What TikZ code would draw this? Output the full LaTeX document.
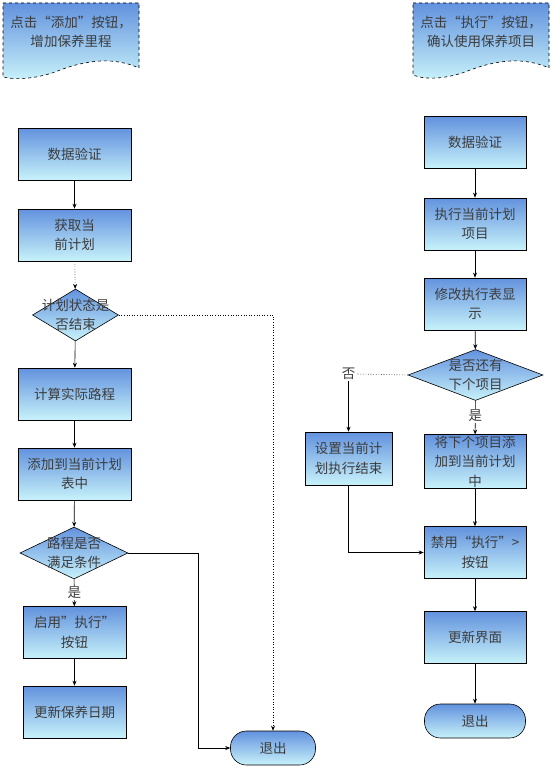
\documentclass[tikz,border=0pt]{standalone}
\usepackage{fontspec}
\setmainfont{Noto Sans CJK SC}
\usetikzlibrary{arrows.meta,shapes.geometric}
\definecolor{topb}{RGB}{98,146,222}
\definecolor{botb}{RGB}{200,242,250}
\definecolor{txtc}{RGB}{60,60,60}
\tikzset{
  box/.style={draw=black, line width=0.6pt, top color=topb, bottom color=botb, minimum height=52pt, align=center, inner sep=1pt, font=\fontsize{13.5}{19.5}\selectfont, text=txtc},
  dia/.style={draw=black, line width=0.6pt, diamond, top color=topb, bottom color=botb, inner sep=0pt},
  dtext/.style={align=center, inner sep=0pt, font=\fontsize{13.5}{19.5}\selectfont, text=txtc},
  term/.style={draw=black, line width=0.6pt, top color=topb, bottom color=botb, rounded corners=16pt, minimum height=34pt, font=\fontsize{13.5}{19}\selectfont, text=txtc},
  lbl/.style={fill=white, inner sep=1pt, font=\fontsize{13.5}{15}\selectfont, text=txtc},
  conn/.style={line width=0.6pt, -{Stealth[length=5pt,width=4pt]}},
  dconn/.style={conn, dotted},
  docshape/.style={draw=black, line width=0.6pt, dashed, top color=topb, bottom color=botb}
}
\begin{document}
\begin{tikzpicture}[x=1pt,y=-1pt]
\useasboundingbox (0,0) rectangle (554,768);
% document shapes
\shade[docshape] (3,3) -- (139,3) -- (139,68) .. controls (110,55) and (80,62) .. (55,72) .. controls (35,79) and (15,80) .. (3,77) -- cycle;
\node[dtext] (docL) at (71,32) {点击“添加”按钮，\\增加保养里程};
\shade[docshape] (413,3) -- (549,3) -- (549,68) .. controls (520,55) and (490,62) .. (465,72) .. controls (445,79) and (425,80) .. (413,75) -- cycle;
\node[dtext] (docR) at (481,32) {点击“执行”按钮，\\确认使用保养项目};
% left column
\node[box, minimum width=113pt] (l1) at (74.5,154) {数据验证};
\node[box, minimum width=113pt] (l2) at (74.5,235) {获取当\\前计划};
\node[dia, minimum width=86pt, minimum height=52pt] (d1) at (75.5,315) {};
\node[dtext] (d1t) at (75.5,315) {计划状态是\\否结束};
\node[box, minimum width=113pt] (l3) at (74.5,394) {计算实际路程};
\node[box, minimum width=113pt] (l4) at (74.5,474) {添加到当前计划\\表中};
\node[dia, minimum width=108pt, minimum height=52pt] (d2) at (74,553) {};
\node[dtext] (d2t) at (74,553) {路程是否\\满足条件};
\node[box, minimum width=103pt] (l5) at (74.5,632.5) {启用”执行”\\按钮};
\node[box, minimum width=103pt] (l6) at (74.5,712) {更新保养日期};
\node[term, minimum width=85pt] (exL) at (273,748) {退出};
% right column
\node[box, minimum width=102pt] (r1) at (475,142.5) {数据验证};
\node[box, minimum width=102pt] (r2) at (475,224) {执行当前计划\\项目};
\node[box, minimum width=102pt] (r3) at (475,304) {修改执行表显\\示};
\node[dia, minimum width=135pt, minimum height=51pt] (d3) at (475.5,375) {};
\node[dtext] (d3t) at (475.5,375) {是否还有\\下个项目};
\node[box, minimum width=87pt, minimum height=53pt] (r4) at (348.5,458.5) {设置当前计\\划执行结束};
\node[box, minimum width=102pt, minimum height=53pt] (r5) at (475,461.5) {将下个项目添\\加到当前计划\\中};
\node[box, minimum width=102pt] (r6) at (475,552.5) {禁用“执行”>\\按钮};
\node[box, minimum width=102pt] (r7) at (475,637.5) {更新界面};
\node[term, minimum width=101pt] (exR) at (475,721) {退出};
% left connectors
\draw[conn] (l1) -- (l2);
\draw[dconn] (l2) -- (d1);
\draw[conn] (d1) -- (l3);
\draw[conn] (l3) -- (l4);
\draw[conn] (l4) -- (d2);
\draw[conn] (d2) -- node[lbl] (yesL) {是} (l5);
\draw[conn] (l5) -- (l6);
\draw[dconn] (d1.east) -| (exL.north);
\draw[conn] (d2.east) -- ++(70,0) |- (exL.west);
% right connectors
\draw[conn] (r1) -- (r2);
\draw[conn] (r2) -- (r3);
\draw[conn] (r3) -- (d3);
\draw[conn] (d3) -- node[lbl, pos=0.45] (yesR) {是} (r5);
\node[lbl] (noR) at (348.5,374) {否};
\draw[line width=0.6pt, dotted] (d3.west) -- (noR.east);
\draw[conn] (noR.south) -- (r4.north);
\draw[conn] (r4.south) |- (r6.west);
\draw[conn] (r5) -- (r6);
\draw[conn] (r6) -- (r7);
\draw[conn] (r7) -- (exR);
\end{tikzpicture}
\end{document}
